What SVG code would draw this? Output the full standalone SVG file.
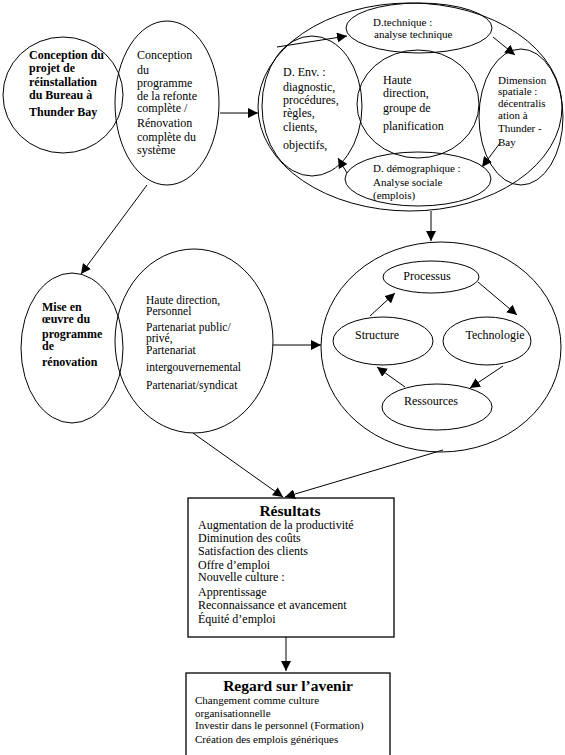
<svg xmlns="http://www.w3.org/2000/svg" width="565" height="755" viewBox="0 0 565 755" font-family="'Liberation Serif', 'DejaVu Serif', 'Times New Roman', serif">
<defs>
<style>
.s{fill:none;stroke:#000;stroke-width:1}
.b{fill:#fff;stroke:#000;stroke-width:1.3}
text{fill:#000}
.t12{font-size:12px}
.t11{font-size:11px}
.t115{font-size:11.5px}
.bd{font-weight:bold;font-size:12px}
.ttl{font-weight:bold;font-size:15.5px}
.c{stroke:#000;stroke-width:1;fill:none}
</style>
<marker id="ah" viewBox="0 0 10 10" refX="10" refY="5" markerWidth="10" markerHeight="10" markerUnits="userSpaceOnUse" orient="auto">
<path d="M0,0 L10,5 L0,10 z" fill="#000"/>
</marker>
<clipPath id="cdim"><ellipse cx="521" cy="117" rx="42" ry="68"/></clipPath>
</defs>

<g id="n-conception-projet">
<ellipse class="s" cx="63" cy="95" rx="60" ry="58"/>
<text class="bd" x="29" y="59">Conception du</text>
<text class="bd" x="29" y="72">projet de</text>
<text class="bd" x="29" y="86">réinstallation</text>
<text class="bd" x="29" y="99">du Bureau à</text>
<text class="bd" x="29" y="116">Thunder Bay</text>
</g>

<g id="n-conception-programme">
<ellipse class="s" cx="167" cy="103" rx="52" ry="82"/>
<text class="t12" x="137" y="59">Conception</text>
<text class="t12" x="137" y="74">du</text>
<text class="t12" x="137" y="87">programme</text>
<text class="t12" x="137" y="100">de la refonte</text>
<text class="t12" x="137" y="112">complète /</text>
<text class="t12" x="137" y="127">Rénovation</text>
<text class="t12" x="137" y="141">complète du</text>
<text class="t12" x="137" y="154">système</text>
</g>

<g id="n-dimensions">
<ellipse class="s" cx="410" cy="107" rx="152" ry="104"/>
</g>
<g id="n-dtechnique">
<ellipse class="s" cx="419" cy="28" rx="73" ry="25"/>
<text class="t11" x="373" y="26">D.technique :</text>
<text class="t11" x="374" y="38">analyse technique</text>
</g>
<g id="n-denv">
<ellipse class="s" cx="312" cy="106" rx="50" ry="70"/>
<text class="t12" x="283" y="76">D. Env. :</text>
<text class="t12" x="283" y="91">diagnostic,</text>
<text class="t12" x="283" y="104">procédures,</text>
<text class="t12" x="283" y="117">règles,</text>
<text class="t12" x="283" y="131">clients,</text>
<text class="t12" x="283" y="149">objectifs,</text>
</g>
<g id="n-haute-direction">
<ellipse class="s" cx="418" cy="104" rx="61" ry="54"/>
<text class="t12" x="383" y="84">Haute</text>
<text class="t12" x="383" y="97">direction,</text>
<text class="t12" x="383" y="112">groupe de</text>
<text class="t12" x="383" y="130">planification</text>
</g>
<g id="n-dspatiale">
<ellipse class="s" cx="521" cy="117" rx="42" ry="68"/>
<g clip-path="url(#cdim)">
<text class="t11" x="498" y="84">Dimension</text>
</g>
<text class="t11" x="498" y="95">spatiale :</text>
<text class="t11" x="498" y="107">décentralis</text>
<text class="t11" x="498" y="119">ation à</text>
<text class="t11" x="498" y="132">Thunder -</text>
<text class="t11" x="498" y="146">Bay</text>
</g>
<g id="n-ddemo">
<ellipse class="s" cx="418" cy="179" rx="73" ry="27"/>
<text class="t11" x="373" y="172">D. démographique :</text>
<text class="t11" x="373" y="186">Analyse sociale</text>
<text class="t11" x="373" y="199">(emplois)</text>
</g>

<g id="n-mise-en-oeuvre">
<ellipse class="s" cx="72" cy="348" rx="51" ry="75"/>
<text class="bd" x="42" y="311">Mise en</text>
<text class="bd" x="42" y="323">œuvre du</text>
<text class="bd" x="42" y="338">programme</text>
<text class="bd" x="42" y="350">de</text>
<text class="bd" x="42" y="366">rénovation</text>
</g>

<g id="n-acteurs">
<ellipse class="s" cx="194" cy="341" rx="79" ry="92"/>
<text class="t115" x="146" y="304">Haute direction,</text>
<text class="t115" x="146" y="315">Personnel</text>
<text class="t115" x="146" y="331">Partenariat public/</text>
<text class="t115" x="146" y="342">privé,</text>
<text class="t115" x="146" y="354">Partenariat</text>
<text class="t115" x="146" y="371">intergouvernemental</text>
<text class="t115" x="146" y="389">Partenariat/syndicat</text>
</g>

<g id="n-cycle">
<ellipse class="s" cx="441" cy="347" rx="120" ry="105"/>
</g>
<g id="n-processus">
<ellipse class="s" cx="431" cy="277" rx="48" ry="16"/>
<text class="t12" x="427" y="280" text-anchor="middle">Processus</text>
</g>
<g id="n-structure">
<ellipse class="s" cx="383" cy="341" rx="50" ry="24"/>
<text class="t12" x="377" y="339" text-anchor="middle">Structure</text>
</g>
<g id="n-technologie">
<ellipse class="s" cx="487" cy="341" rx="44" ry="24"/>
<text class="t12" x="495" y="339" text-anchor="middle">Technologie</text>
</g>
<g id="n-ressources">
<ellipse class="s" cx="437" cy="407" rx="55" ry="23"/>
<text class="t12" x="431" y="405" text-anchor="middle">Ressources</text>
</g>

<g id="n-resultats">
<rect class="b" x="188" y="498" width="206" height="139"/>
<text class="ttl" x="290" y="516" text-anchor="middle">Résultats</text>
<text class="t12" x="198" y="529">Augmentation de la productivité</text>
<text class="t12" x="198" y="542">Diminution des coûts</text>
<text class="t12" x="198" y="555">Satisfaction des clients</text>
<text class="t12" x="198" y="569">Offre d’emploi</text>
<text class="t12" x="198" y="581">Nouvelle culture :</text>
<text class="t12" x="198" y="596">Apprentissage</text>
<text class="t12" x="198" y="609">Reconnaissance et avancement</text>
<text class="t12" x="198" y="623">Équité d’emploi</text>
</g>

<g id="n-avenir">
<rect class="b" x="186" y="673" width="204" height="90"/>
<text class="ttl" x="288" y="691" text-anchor="middle">Regard sur l’avenir</text>
<text class="t11" x="195" y="704">Changement comme culture</text>
<text class="t11" x="195" y="717">organisationnelle</text>
<text class="t11" x="195" y="729">Investir dans le personnel (Formation)</text>
<text class="t11" x="195" y="743">Création des emplois génériques</text>
</g>

<g id="connectors">
<line class="c" x1="220" y1="113" x2="258" y2="113" marker-end="url(#ah)"/>
<line class="c" x1="147" y1="185" x2="81" y2="274" marker-end="url(#ah)"/>
<line class="c" x1="277" y1="47" x2="347" y2="36" marker-end="url(#ah)"/>
<line class="c" x1="493" y1="37" x2="515" y2="55" marker-end="url(#ah)"/>
<line class="c" x1="500" y1="143" x2="482" y2="167" marker-end="url(#ah)"/>
<line class="c" x1="347" y1="173" x2="338" y2="158" marker-end="url(#ah)"/>
<line class="c" x1="431" y1="211" x2="431" y2="241" marker-end="url(#ah)"/>
<line class="c" x1="273" y1="345" x2="321" y2="345" marker-end="url(#ah)"/>
<line class="c" x1="370" y1="316" x2="395" y2="293" marker-end="url(#ah)"/>
<line class="c" x1="478" y1="282" x2="517" y2="315" marker-end="url(#ah)"/>
<line class="c" x1="503" y1="366" x2="470" y2="388" marker-end="url(#ah)"/>
<line class="c" x1="405" y1="387" x2="377" y2="367" marker-end="url(#ah)"/>
<line class="c" x1="193" y1="433" x2="283" y2="497" marker-end="url(#ah)"/>
<line class="c" x1="443" y1="450" x2="285" y2="497" marker-end="url(#ah)"/>
<line class="c" x1="286" y1="637" x2="286" y2="671" marker-end="url(#ah)"/>
</g>
</svg>
